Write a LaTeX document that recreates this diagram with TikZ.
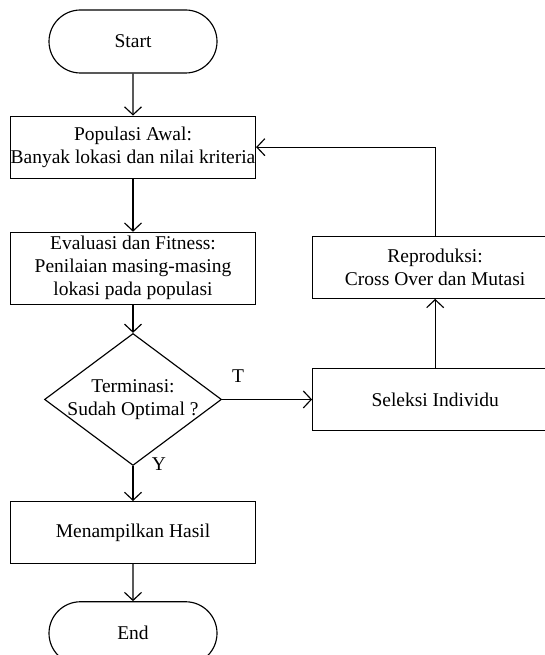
\documentclass[tikz,border=0pt]{standalone}
\usepackage{fontspec}
\setmainfont{Liberation Serif}
\usetikzlibrary{shapes,arrows.meta}
\usetikzlibrary{positioning}
\tikzset{
    proses/.style={draw,rectangle,minimum width=245pt,minimum height=62pt,inner sep=0pt,align=center},
    terminal/.style={draw,rounded rectangle,minimum width=168pt,minimum height=63pt,inner sep=0pt},
    keputusan/.style={draw,diamond,aspect=1.34,minimum width=177pt,minimum height=132pt,inner sep=-6pt,align=center},
}

\begin{document}
\begin{tikzpicture}[->,>={Straight Barb[length=8pt,width=17pt]},line width=1.15pt,node distance=40pt,font=\fontsize{19.5}{23}\selectfont]
        \useasboundingbox (0,0) rectangle (545pt,-655pt);
        \node[terminal] (start) at (133pt,-41.5pt) {Start};
        \node[proses] (awal) [below=42pt of start] {Populasi Awal:\\Banyak lokasi dan nilai kriteria};
        \node[proses, minimum height=72pt] (eval) [below=53pt of awal] {Evaluasi dan Fitness:\\Penilaian masing-masing\\lokasi pada populasi};
        \node[keputusan] (cek) [below=28pt of eval] {Terminasi:\\Sudah Optimal ?};
        \node[proses] (hasil) [below=35pt of cek] {Menampilkan Hasil};
        \node[terminal] (end) [below=37pt of hasil] {End};
        \node[proses] (seleksi) [right=90pt of cek] {Seleksi Individu};
        \node[proses] (repro) [above=69pt of seleksi] {Reproduksi:\\Cross Over dan Mutasi};

        \path
            (start) edge (awal)
            (awal) edge (eval)
            (eval) edge (cek)
            (cek.east) edge node[at start, xshift=16pt, yshift=23pt] {T} (seleksi.west)
            (cek.south) edge node[at start, xshift=26pt, yshift=2pt] {Y} (hasil)
            (hasil) edge (end)
            (seleksi) edge (repro)
            ;
        \draw (repro.north) |- (awal.east);
\end{tikzpicture}
\end{document}
